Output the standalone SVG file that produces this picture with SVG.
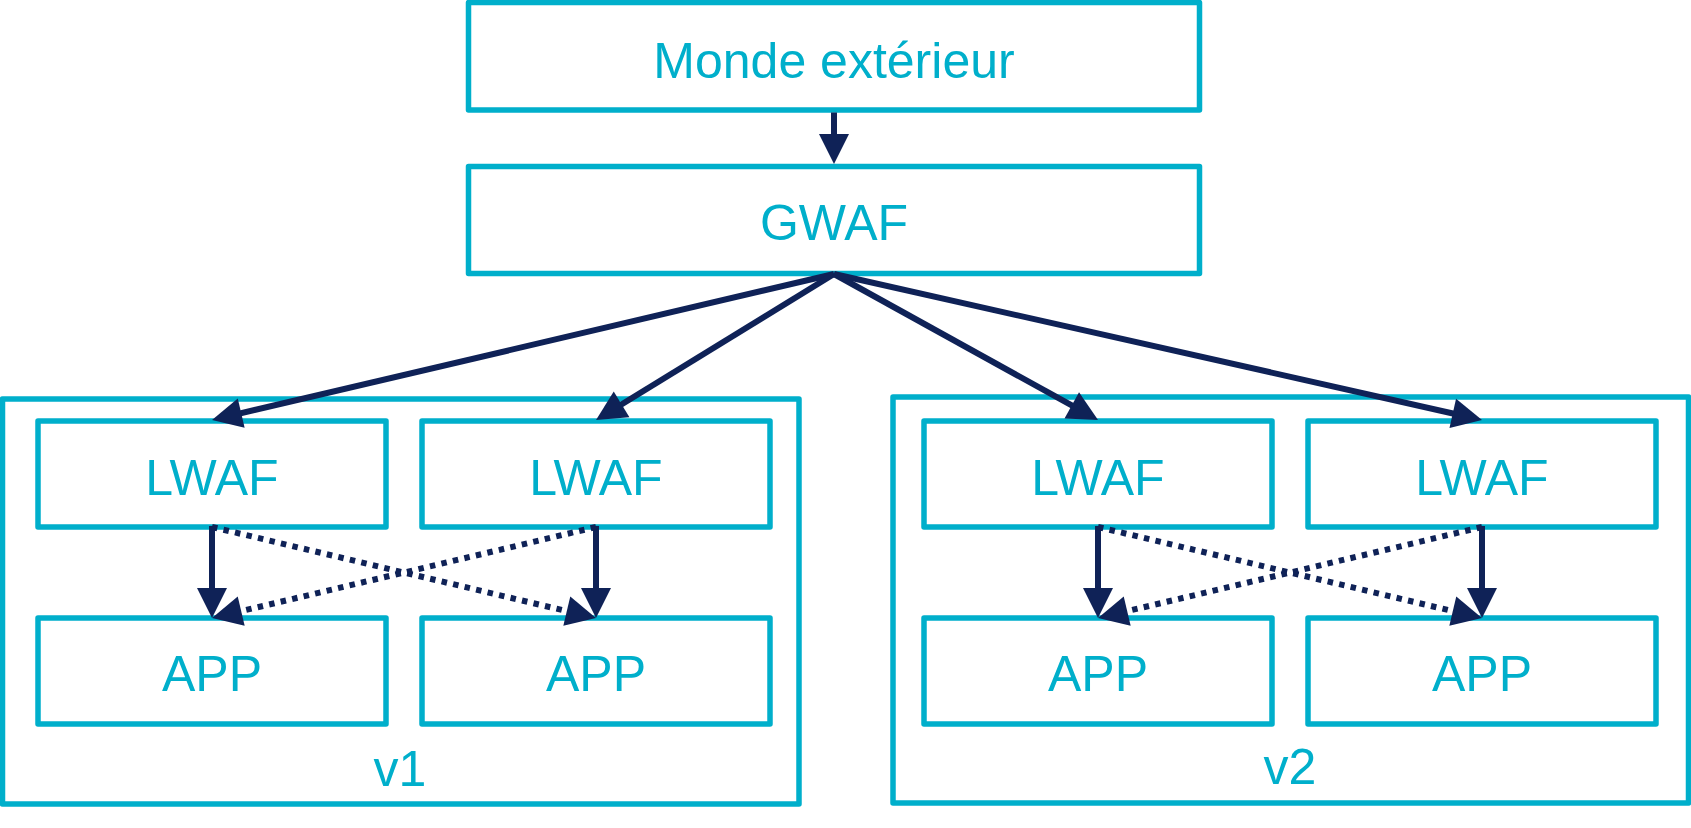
<svg xmlns="http://www.w3.org/2000/svg" width="1691" height="828" viewBox="0 0 1691 828">
<style>
.box{fill:#ffffff;stroke:#00AFCB;stroke-width:5.5;stroke-linejoin:round}
.grp{fill:none;stroke:#00AFCB;stroke-width:5.5;stroke-linejoin:round}
.lbl{font-family:"Liberation Sans",Arial,sans-serif;font-size:50px;fill:#00AFCB;text-anchor:middle}
.arr{fill:none;stroke:#0F2257;stroke-width:6;marker-end:url(#ah)}
.dot{fill:none;stroke:#0F2257;stroke-width:6;stroke-dasharray:5.5 6.3;marker-end:url(#ah)}
</style>
<defs>
<marker id="ah" markerUnits="userSpaceOnUse" markerWidth="30" markerHeight="30" refX="15" refY="15" orient="auto" overflow="visible">
<path d="M0,0 L30,15 L0,30 Z" fill="#0F2257"/>
</marker>
</defs>
<rect width="1691" height="828" fill="#ffffff"/>
<g id="v1">
<rect class="grp" x="2.5" y="399" width="796.5" height="405"/>
<text class="lbl" x="400" y="786">v1</text>
</g>
<g id="v2">
<rect class="grp" x="893" y="397" width="795.5" height="406"/>
<text class="lbl" x="1290" y="784">v2</text>
</g>
<g id="monde">
<rect class="box" x="468.5" y="2.5" width="731" height="107.5"/>
<text class="lbl" x="834" y="78">Monde extérieur</text>
</g>
<g id="gwaf">
<rect class="box" x="468.5" y="166.5" width="731" height="107"/>
<text class="lbl" x="834" y="240">GWAF</text>
</g>
<g id="lwaf1">
<rect class="box" x="38" y="421" width="348" height="106"/>
<text class="lbl" x="212" y="495">LWAF</text>
</g>
<g id="lwaf2">
<rect class="box" x="422" y="421" width="348" height="106"/>
<text class="lbl" x="596" y="495">LWAF</text>
</g>
<g id="lwaf3">
<rect class="box" x="924" y="421" width="348" height="106"/>
<text class="lbl" x="1098" y="495">LWAF</text>
</g>
<g id="lwaf4">
<rect class="box" x="1308" y="421" width="348" height="106"/>
<text class="lbl" x="1482" y="495">LWAF</text>
</g>
<g id="app1">
<rect class="box" x="38" y="618" width="348" height="106"/>
<text class="lbl" x="212" y="691">APP</text>
</g>
<g id="app2">
<rect class="box" x="422" y="618" width="348" height="106"/>
<text class="lbl" x="596" y="691">APP</text>
</g>
<g id="app3">
<rect class="box" x="924" y="618" width="348" height="106"/>
<text class="lbl" x="1098" y="691">APP</text>
</g>
<g id="app4">
<rect class="box" x="1308" y="618" width="348" height="106"/>
<text class="lbl" x="1482" y="691">APP</text>
</g>
<g id="connectors">
<line class="arr" x1="834" y1="112.5" x2="834" y2="149"/>
<line class="arr" x1="834" y1="274" x2="226.6" y2="416.6"/>
<line class="arr" x1="834" y1="274" x2="608.8" y2="412.2"/>
<line class="arr" x1="834" y1="274" x2="1084.9" y2="412.7"/>
<line class="arr" x1="834" y1="274" x2="1467.4" y2="416.7"/>
<line class="arr" x1="212" y1="526" x2="212" y2="603"/>
<line class="arr" x1="596" y1="526" x2="596" y2="603"/>
<line class="arr" x1="1098" y1="526" x2="1098" y2="603"/>
<line class="arr" x1="1482" y1="526" x2="1482" y2="603"/>
<line class="dot" x1="212" y1="527" x2="581.4" y2="614.6"/>
<line class="dot" x1="596" y1="527" x2="226.6" y2="614.6"/>
<line class="dot" x1="1098" y1="527" x2="1467.4" y2="614.6"/>
<line class="dot" x1="1482" y1="527" x2="1112.6" y2="614.6"/>
</g>
</svg>
